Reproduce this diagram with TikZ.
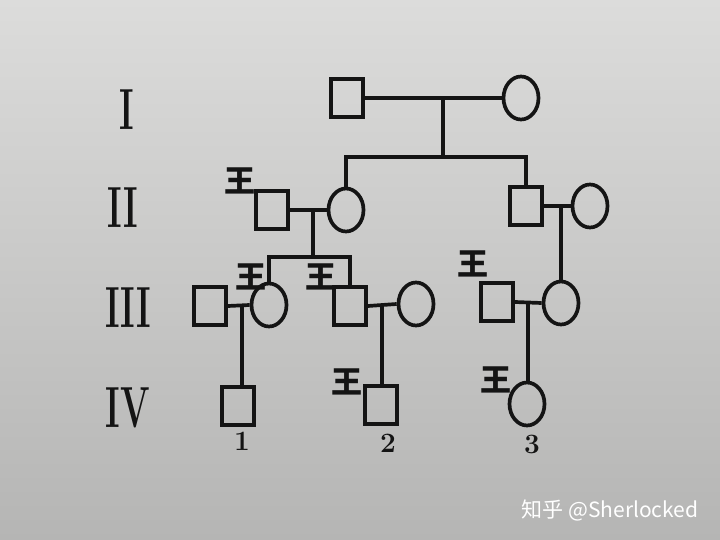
\documentclass[tikz,border=0pt]{standalone}
\usepackage{fontspec}
\newfontfamily\cjk{Noto Sans CJK SC}
\usetikzlibrary{shapes.geometric}
\definecolor{ink}{HTML}{141414}
\definecolor{papertop}{HTML}{DCDCDB}
\definecolor{papermid}{HTML}{D2D2D1}
\definecolor{paperbot}{HTML}{B5B5B4}
\tikzset{
  sq/.style={rectangle, draw=ink, line width=3.7pt, inner sep=0pt, minimum width=32pt, minimum height=38pt},
  ci/.style={ellipse, draw=ink, line width=3.7pt, inner sep=0pt, minimum width=35pt, minimum height=43pt},
  ln/.style={draw=ink, line width=3.7pt},
  wang/.style={font=\cjk\bfseries\fontsize{31}{31}\selectfont, text=ink, inner sep=0pt},
  gen/.style={font=\bfseries\fontsize{58}{58}\selectfont, text=ink, inner sep=0pt},
  num/.style={font=\bfseries\fontsize{28}{28}\selectfont, text=ink, inner sep=0pt},
  wmtext/.style={font=\cjk\fontsize{21}{21}\selectfont, text=white, inner sep=0pt}
}
\begin{document}
\begin{tikzpicture}[x=1pt,y=-1pt]
\useasboundingbox (0,0) rectangle (720,540);
\shade[top color=papertop, middle color=papermid, bottom color=paperbot] (0,0) rectangle (720,540);

% generation labels
\node[gen] (gI) at (127,110) {\scalebox{0.6}[1]{I}};
\node[gen] (gII) at (123,208) {\scalebox{0.6}[1]{II}};
\node[gen] (gIII) at (128,308) {\scalebox{0.6}[1]{III}};
\node[gen] (gIV) at (128,408) {\scalebox{0.6}[1]{IV}};

% generation I
\node[sq] (I1) at (347,98) {};
\node[ci] (I2) at (521,98) {};
\coordinate (m1) at (443,98);
\coordinate (s1) at (443,157);

% generation II
\node[sq] (II1) at (272,210) {};
\node[ci] (II2) at (346,210) {};
\node[sq] (II3) at (526,206) {};
\node[ci] (II4) at (590,206) {};
\coordinate (m2) at (313,210);
\coordinate (s2) at (313,257);
\coordinate (m3) at (561,206);

% generation III
\node[sq] (III1) at (210,306) {};
\node[ci] (III2) at (269,305) {};
\node[sq] (III3) at (350,306) {};
\node[ci] (III4) at (416,304) {};
\node[sq] (III5) at (497,302) {};
\node[ci] (III6) at (561,303) {};
\coordinate (m4) at (242,306);
\coordinate (m5) at (382,306);
\coordinate (m6) at (528,302);

% generation IV
\node[sq] (IV1) at (238,406) {};
\node[sq] (IV2) at (381,405) {};
\node[ci] (IV3) at (527,404) {};

% connectors
\draw[ln] (I1.east) -- (I2.west);
\draw[ln] (m1) -- (s1);
\draw[ln] (II2.north) |- (s1) -| (II3.north);
\draw[ln] (II1.east) -- (II2.west);
\draw[ln] (m2) -- (s2);
\draw[ln] (III2.north) |- (s2) -| (III3.north);
\draw[ln] (II3.east) -- (II4.west);
\draw[ln] (m3) -- (III6.north);
\draw[ln] (III1.east) -- (III2.west);
\draw[ln] (m4) -- (m4 |- IV1.north);
\draw[ln] (III3.east) -- (III4.west);
\draw[ln] (m5) -- (m5 |- IV2.north);
\draw[ln] (III5.east) -- (III6.west);
\draw[ln] (m6) -- (m6 |- IV3.north);

% surname marks
\node[wang] (w1) at (240,181) {王};
\node[wang] (w2) at (251,277) {王};
\node[wang] (w3) at (321,277) {王};
\node[wang] (w4) at (473,264) {王};
\node[wang] (w5) at (347,382) {王};
\node[wang] (w6) at (496,380) {王};

% numbers
\node[num] (n1) at (242,441) {1};
\node[num] (n2) at (388,443) {2};
\node[num] (n3) at (532,444) {3};

% watermark
\node[wmtext] (wm) at (610,510) {知乎 @Sherlocked};
\end{tikzpicture}
\end{document}
